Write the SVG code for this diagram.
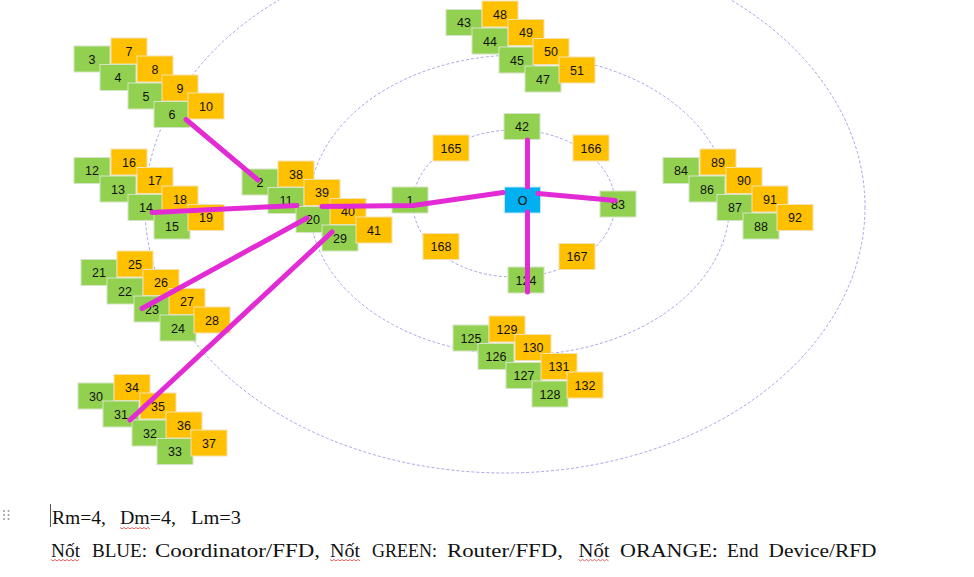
<svg xmlns="http://www.w3.org/2000/svg" width="974" height="577" viewBox="0 0 974 577">
<style>
.ring{fill:none;stroke:#8f8fe0;stroke-width:0.8;stroke-dasharray:3 2}
.g{fill:#92D050;stroke:#d5e3c6;stroke-width:1}
.o{fill:#FFC000;stroke:#f3e0b0;stroke-width:1}
.b{fill:#00B0F0;stroke:#bfe6f5;stroke-width:1}
.n text{font-family:"Liberation Sans",Arial,sans-serif;font-size:12.5px;fill:#111;text-anchor:middle}
.c{fill:none;stroke:#E22BD4;stroke-width:5;stroke-linecap:round;stroke-linejoin:round}
.t{font-family:"Liberation Serif","Times New Roman",serif;font-size:19px;fill:#111}
.sq{fill:none;stroke:#e04040;stroke-width:0.8}
</style>
<rect width="974" height="577" fill="#fff"/>
<g id="rings">
<ellipse class="ring" cx="505" cy="207" rx="360" ry="266"/>
<ellipse class="ring" cx="519.5" cy="205" rx="210" ry="150"/>
<ellipse class="ring" cx="514" cy="203.5" rx="101" ry="73.5"/>
</g>
<g id="nodes" class="n">
<g id="n3"><rect class="g" x="74" y="46" width="36" height="26"/><text x="92" y="63.5">3</text></g>
<g id="n7"><rect class="o" x="111" y="38" width="36" height="26"/><text x="129" y="55.5">7</text></g>
<g id="n4"><rect class="g" x="100" y="64.5" width="36" height="26"/><text x="118" y="82">4</text></g>
<g id="n8"><rect class="o" x="137" y="56" width="36" height="26"/><text x="155" y="73.5">8</text></g>
<g id="n5"><rect class="g" x="128" y="83" width="36" height="26"/><text x="146" y="100.5">5</text></g>
<g id="n9"><rect class="o" x="162" y="75" width="36" height="26"/><text x="180" y="92.5">9</text></g>
<g id="n6"><rect class="g" x="154" y="101.5" width="36" height="26"/><text x="172" y="119">6</text></g>
<g id="n10"><rect class="o" x="188" y="93" width="36" height="26"/><text x="206" y="110.5">10</text></g>

<g id="n12"><rect class="g" x="74" y="157.5" width="36" height="26"/><text x="92" y="175">12</text></g>
<g id="n16"><rect class="o" x="111" y="149" width="36" height="26"/><text x="129" y="166.5">16</text></g>
<g id="n13"><rect class="g" x="100" y="176" width="36" height="26"/><text x="118" y="193.5">13</text></g>
<g id="n17"><rect class="o" x="137" y="167.5" width="36" height="26"/><text x="155" y="185">17</text></g>
<g id="n14"><rect class="g" x="128" y="194.5" width="36" height="26"/><text x="146" y="212">14</text></g>
<g id="n18"><rect class="o" x="162" y="186" width="36" height="26"/><text x="180" y="203.5">18</text></g>
<g id="n15"><rect class="g" x="154" y="213" width="36" height="26"/><text x="172" y="230.5">15</text></g>
<g id="n19"><rect class="o" x="188" y="204.5" width="36" height="26"/><text x="206" y="222">19</text></g>

<g id="n21"><rect class="g" x="81" y="259.5" width="36" height="26"/><text x="99" y="277">21</text></g>
<g id="n25"><rect class="o" x="117" y="251" width="36" height="26"/><text x="135" y="268.5">25</text></g>
<g id="n22"><rect class="g" x="107" y="278" width="36" height="26"/><text x="125" y="295.5">22</text></g>
<g id="n26"><rect class="o" x="143" y="269.5" width="36" height="26"/><text x="161" y="287">26</text></g>
<g id="n23"><rect class="g" x="134" y="296" width="36" height="26"/><text x="152" y="313.5">23</text></g>
<g id="n27"><rect class="o" x="169" y="288.5" width="36" height="26"/><text x="187" y="306">27</text></g>
<g id="n24"><rect class="g" x="160" y="315" width="36" height="26"/><text x="178" y="332.5">24</text></g>
<g id="n28"><rect class="o" x="194" y="307" width="36" height="26"/><text x="212" y="324.5">28</text></g>

<g id="n30"><rect class="g" x="78" y="383" width="36" height="26"/><text x="96" y="400.5">30</text></g>
<g id="n34"><rect class="o" x="114" y="374.5" width="36" height="26"/><text x="132" y="392">34</text></g>
<g id="n31"><rect class="g" x="103" y="401" width="36" height="26"/><text x="121" y="418.5">31</text></g>
<g id="n35"><rect class="o" x="140" y="393" width="36" height="26"/><text x="158" y="410.5">35</text></g>
<g id="n32"><rect class="g" x="132" y="420" width="36" height="26"/><text x="150" y="437.5">32</text></g>
<g id="n36"><rect class="o" x="166" y="412" width="36" height="26"/><text x="184" y="429.5">36</text></g>
<g id="n33"><rect class="g" x="157" y="438.5" width="36" height="26"/><text x="175" y="456">33</text></g>
<g id="n37"><rect class="o" x="191" y="430" width="36" height="26"/><text x="209" y="447.5">37</text></g>

<g id="n2"><rect class="g" x="242" y="169" width="36" height="26"/><text x="260" y="186.5">2</text></g>
<g id="n38"><rect class="o" x="278" y="161" width="36" height="26"/><text x="296" y="178.5">38</text></g>
<g id="n11"><rect class="g" x="268" y="187.5" width="36" height="26"/><text x="286" y="205">11</text></g>
<g id="n39"><rect class="o" x="304" y="179.5" width="36" height="26"/><text x="322" y="197">39</text></g>
<g id="n20"><rect class="g" x="296" y="206.5" width="36" height="26"/><text x="313" y="224">20</text></g>
<g id="n40"><rect class="o" x="330" y="198.5" width="36" height="26"/><text x="348" y="216">40</text></g>
<g id="n29"><rect class="g" x="322" y="225" width="36" height="26"/><text x="340" y="242.5">29</text></g>
<g id="n41"><rect class="o" x="356" y="217" width="36" height="26"/><text x="374" y="234.5">41</text></g>

<g id="n1"><rect class="g" x="392" y="187" width="36" height="26"/><text x="410" y="204.5">1</text></g>

<g id="n43"><rect class="g" x="446" y="9.5" width="36" height="26"/><text x="464" y="27">43</text></g>
<g id="n48"><rect class="o" x="482" y="1" width="36" height="26"/><text x="500" y="18.5">48</text></g>
<g id="n44"><rect class="g" x="472" y="28" width="36" height="26"/><text x="490" y="45.5">44</text></g>
<g id="n49"><rect class="o" x="508" y="19.5" width="36" height="26"/><text x="526" y="37">49</text></g>
<g id="n45"><rect class="g" x="499" y="47" width="36" height="26"/><text x="517" y="64.5">45</text></g>
<g id="n50"><rect class="o" x="533" y="38.5" width="36" height="26"/><text x="551" y="56">50</text></g>
<g id="n47"><rect class="g" x="525" y="66" width="36" height="26"/><text x="543" y="83.5">47</text></g>
<g id="n51"><rect class="o" x="559" y="57" width="36" height="26"/><text x="577" y="74.5">51</text></g>

<g id="n42"><rect class="g" x="504" y="113.5" width="36" height="26"/><text x="522" y="131">42</text></g>
<g id="n165"><rect class="o" x="433" y="135" width="36" height="26"/><text x="451" y="152.5">165</text></g>
<g id="n166"><rect class="o" x="573" y="135" width="36" height="26"/><text x="591" y="152.5">166</text></g>
<g id="nO"><rect class="b" x="504.5" y="187" width="36" height="26"/><text x="522.5" y="204.5">O</text></g>
<g id="n83"><rect class="g" x="600" y="191" width="36" height="26"/><text x="618" y="208.5">83</text></g>
<g id="n168"><rect class="o" x="423" y="233.5" width="36" height="26"/><text x="441" y="251">168</text></g>
<g id="n167"><rect class="o" x="559" y="243.5" width="36" height="26"/><text x="577" y="261">167</text></g>
<g id="n124"><rect class="g" x="508" y="267" width="36" height="26"/><text x="526" y="284.5">124</text></g>

<g id="n84"><rect class="g" x="663" y="157.5" width="36" height="26"/><text x="681" y="175">84</text></g>
<g id="n89"><rect class="o" x="700" y="149" width="36" height="26"/><text x="718" y="166.5">89</text></g>
<g id="n86"><rect class="g" x="689" y="176" width="36" height="26"/><text x="707" y="193.5">86</text></g>
<g id="n90"><rect class="o" x="726" y="167.5" width="36" height="26"/><text x="744" y="185">90</text></g>
<g id="n87"><rect class="g" x="717" y="194.5" width="36" height="26"/><text x="735" y="212">87</text></g>
<g id="n91"><rect class="o" x="752" y="186" width="36" height="26"/><text x="770" y="203.5">91</text></g>
<g id="n88"><rect class="g" x="743" y="213" width="36" height="26"/><text x="761" y="230.5">88</text></g>
<g id="n92"><rect class="o" x="777" y="204.5" width="36" height="26"/><text x="795" y="222">92</text></g>

<g id="n125"><rect class="g" x="453" y="325" width="36" height="26"/><text x="471" y="342.5">125</text></g>
<g id="n129"><rect class="o" x="489" y="316" width="36" height="26"/><text x="507" y="333.5">129</text></g>
<g id="n126"><rect class="g" x="478" y="343.5" width="36" height="26"/><text x="496" y="361">126</text></g>
<g id="n130"><rect class="o" x="515" y="334.5" width="36" height="26"/><text x="533" y="352">130</text></g>
<g id="n127"><rect class="g" x="506" y="362.5" width="36" height="26"/><text x="524" y="380">127</text></g>
<g id="n131"><rect class="o" x="541" y="353.5" width="36" height="26"/><text x="559" y="371">131</text></g>
<g id="n128"><rect class="g" x="532" y="381" width="36" height="26"/><text x="550" y="398.5">128</text></g>
<g id="n132"><rect class="o" x="567" y="372" width="36" height="26"/><text x="585" y="389.5">132</text></g>
</g>
<g id="connectors">
<path class="c" d="M186 119.5 L258 180"/>
<path class="c" d="M152 212.5 L297 205.5"/>
<path class="c" d="M322 206.5 L413 205.5 L503 192.5"/>
<path class="c" d="M307 218 L142 308.5"/>
<path class="c" d="M332 232 L130 420"/>
<path class="c" d="M527.5 187 L527.5 140"/>
<path class="c" d="M538 193.5 L615 200.5"/>
<path class="c" d="M527.5 212 L527.5 292"/>
</g>
<g id="caption">
<circle cx="4" cy="511" r="1" fill="#999"/><circle cx="8.5" cy="511" r="1" fill="#999"/>
<circle cx="4" cy="515" r="1" fill="#999"/><circle cx="8.5" cy="515" r="1" fill="#999"/>
<circle cx="4" cy="519" r="1" fill="#999"/><circle cx="8.5" cy="519" r="1" fill="#999"/>
<line x1="50.5" y1="504" x2="50.5" y2="527" stroke="#555" stroke-width="1"/>
<text class="t" y="523.5"><tspan x="52" textLength="54" lengthAdjust="spacingAndGlyphs">Rm=4,</tspan></text>
<text class="t" y="523.5"><tspan x="120" textLength="56" lengthAdjust="spacingAndGlyphs">Dm=4,</tspan></text>
<text class="t" y="523.5"><tspan x="191" textLength="50" lengthAdjust="spacingAndGlyphs">Lm=3</tspan></text>
<text class="t" y="556.7" x="51" textLength="29" lengthAdjust="spacingAndGlyphs">Nốt</text>
<text class="t" y="556.7" x="92" textLength="55" lengthAdjust="spacingAndGlyphs">BLUE:</text>
<text class="t" y="556.7" x="155" textLength="165" lengthAdjust="spacingAndGlyphs">Coordinator/FFD,</text>
<text class="t" y="556.7" x="330" textLength="30" lengthAdjust="spacingAndGlyphs">Nốt</text>
<text class="t" y="556.7" x="372" textLength="65" lengthAdjust="spacingAndGlyphs">GREEN:</text>
<text class="t" y="556.7" x="447" textLength="116" lengthAdjust="spacingAndGlyphs">Router/FFD,</text>
<text class="t" y="556.7" x="578.5" textLength="31" lengthAdjust="spacingAndGlyphs">Nốt</text>
<text class="t" y="556.7" x="620" textLength="98" lengthAdjust="spacingAndGlyphs">ORANGE:</text>
<text class="t" y="556.7" x="727" textLength="31.5" lengthAdjust="spacingAndGlyphs">End</text>
<text class="t" y="556.7" x="768.5" textLength="108" lengthAdjust="spacingAndGlyphs">Device/RFD</text>
<path class="sq" d="M120 527.5 l2 1.4 2 -1.4 2 1.4 2 -1.4 2 1.4 2 -1.4 2 1.4 2 -1.4 2 1.4 2 -1.4 2 1.4 2 -1.4 2 1.4 2 -1.4 2 1.4"/>
<path class="sq" d="M51 559.5 l2 1.4 2 -1.4 2 1.4 2 -1.4 2 1.4 2 -1.4 2 1.4 2 -1.4 2 1.4 2 -1.4 2 1.4 2 -1.4 2 1.4 2 -1.4"/>
<path class="sq" d="M330 559.5 l2 1.4 2 -1.4 2 1.4 2 -1.4 2 1.4 2 -1.4 2 1.4 2 -1.4 2 1.4 2 -1.4 2 1.4 2 -1.4 2 1.4 2 -1.4 2 1.4"/>
<path class="sq" d="M578.5 559.5 l2 1.4 2 -1.4 2 1.4 2 -1.4 2 1.4 2 -1.4 2 1.4 2 -1.4 2 1.4 2 -1.4 2 1.4 2 -1.4 2 1.4 2 -1.4 2 1.4"/>
</g>
</svg>
